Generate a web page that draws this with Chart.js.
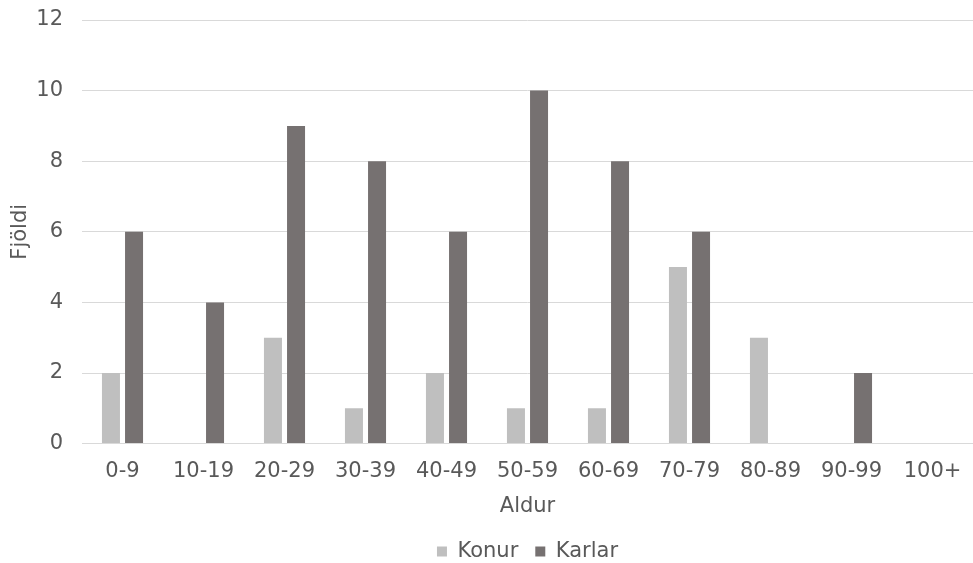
<!DOCTYPE html>
<html>
<head>
<meta charset="utf-8">
<script src="https://cdn.jsdelivr.net/npm/chart.js@4/dist/chart.umd.min.js"></script>
<style>
  body { margin: 0; background: #fff; }
  #wrap { width: 973px; height: 563px; }
</style>
</head>
<body>
<div id="wrap"><canvas id="chart" width="973" height="563"></canvas></div>
<script>
const ageGroups = ['0-9', '10-19', '20-29', '30-39', '40-49', '50-59', '60-69', '70-79', '80-89', '90-99', '100+'];
const konur = [2, 0, 3, 1, 2, 1, 1, 5, 3, 0, 0];
const karlar = [6, 4, 9, 8, 6, 10, 8, 6, 0, 2, 0];
const yTicks = [0, 2, 4, 6, 8, 10, 12];

const txt = '#595959';
const font = { family: 'DejaVu Sans, Verdana, sans-serif', size: 21 };

new Chart(document.getElementById('chart'), {
  type: 'bar',
  data: {
    labels: ageGroups,
    datasets: [
      { label: 'Konur', data: konur, backgroundColor: '#bfbfbf' },
      { label: 'Karlar', data: karlar, backgroundColor: '#767171' }
    ]
  },
  options: {
    responsive: false,
    animation: false,
    datasets: { bar: { categoryPercentage: 0.57, barPercentage: 0.78 } },
    layout: { padding: { left: 6, right: 0, top: 20, bottom: -9 } },
    plugins: {
      tooltip: { enabled: false },
      legend: {
        position: 'bottom',
        fullSize: false, // centre under the plot area, not the whole canvas
        labels: { color: txt, font: font, boxWidth: 10, boxHeight: 10, padding: 17 }
      }
    },
    scales: {
      x: {
        grid: { display: false },
        border: { color: '#d9d9d9', width: 1 },
        ticks: { color: txt, font: font, padding: 7 },
        title: { display: true, text: 'Aldur', color: txt, font: font, padding: { top: 3, bottom: 5 } }
      },
      y: {
        min: 0, max: 12,
        afterBuildTicks: s => { s.ticks = yTicks.map(v => ({ value: v })); },
        afterFit: s => { s.width = 76; s.paddingTop = 0; },
        grid: { color: '#d9d9d9', drawTicks: false },
        border: { display: false },
        ticks: { color: txt, font: font, padding: 19 },
        title: { display: true, text: 'Fjöldi', color: txt, font: font, padding: { top: 2, bottom: 2 } }
      }
    }
  }
});
</script>
</body>
</html>
